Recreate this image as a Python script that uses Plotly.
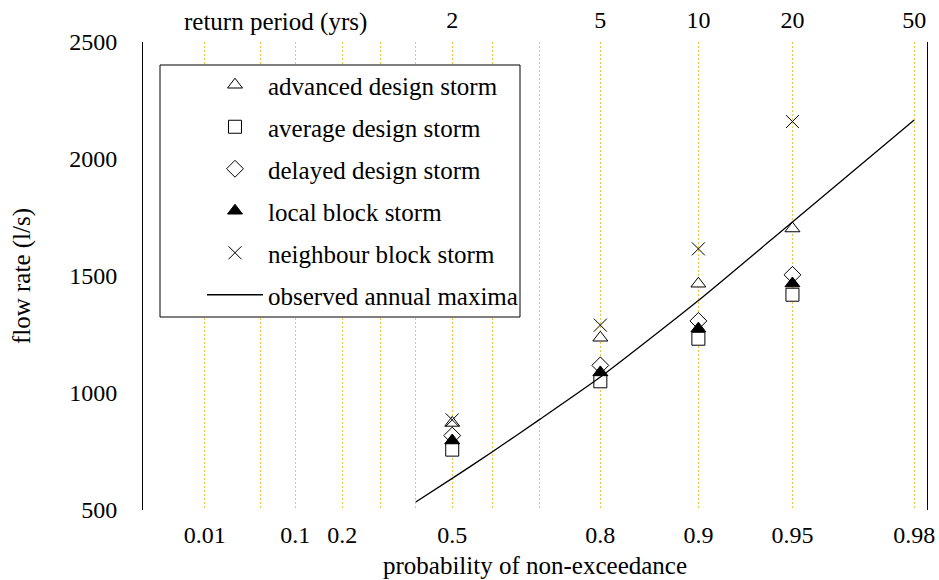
import numpy as np
import plotly.graph_objects as go

# ---- data ----
probs = [0.5, 0.8, 0.9, 0.95]
advanced = [872, 1236, 1467, 1703]
average = [758, 1050, 1232, 1420]
delayed = [818, 1118, 1308, 1505]
local_block = [797, 1088, 1275, 1468]
neighbour = [885, 1290, 1616, 2160]

obs_probs = [0.4, 0.5, 0.6, 0.7, 0.8, 0.9, 0.95, 0.98]
obs_flow = [534, 635, 748, 885, 1068, 1395, 1731, 2167]

grid_probs = [0.01, 0.05, 0.1, 0.2, 0.3, 0.4, 0.5, 0.6, 0.7, 0.8, 0.9, 0.95, 0.98]
label_probs = ["0.01", "", "0.1", "0.2", "", "", "0.5", "", "", "0.8", "0.9", "0.95", "0.98"]
return_periods = [2, 5, 10, 20, 50]
y_ticks = [500, 1000, 1500, 2000, 2500]


def gumbel(p):
    p = np.asarray(p, dtype=float)
    return -np.log(-np.log(p))


FONT = "Liberation Serif"
FS = 25
TFS = 24
GRID = "#f3c540"

fig = go.Figure()

series = [
    ("advanced design storm", advanced, "triangle-up", "white"),
    ("average design storm", average, "square", "white"),
    ("delayed design storm", delayed, "diamond", "white"),
    ("local block storm", local_block, "triangle-up", "black"),
    ("neighbour block storm", neighbour, "x-thin", "black"),
]
for i, (name, vals, sym, fill) in enumerate(series):
    fig.add_trace(go.Scatter(
        x=gumbel(probs), y=vals, mode="markers", name=name,
        legendgroup=f"g{i}",
        marker=dict(symbol=sym, size=13, color=fill,
                    line=dict(color="black", width=1)),
    ))

fig.add_trace(go.Scatter(
    x=gumbel(obs_probs), y=obs_flow, mode="lines", name="observed annual maxima",
    legendgroup="g5",
    line=dict(color="black", width=1.3, shape="spline", smoothing=0.6),
))

# dummy trace to activate the top axis
fig.add_trace(go.Scatter(x=[], y=[], xaxis="x2", showlegend=False, hoverinfo="skip"))

# plot area in px: x 143..927, y 42..510
def px_x(px):
    return (px - 143) / 784.0


def px_y(py):
    return (510 - py) / 468.0


xr = [-2.0, 4.0]
fig.update_layout(
    width=939, height=580,
    margin=dict(l=143, r=12, t=42, b=70, autoexpand=False),
    paper_bgcolor="white", plot_bgcolor="white",
    font=dict(family=FONT, size=FS, color="black"),
    showlegend=True,
    legend=dict(
        x=px_x(202), y=px_y(62), xanchor="left", yanchor="top",
        borderwidth=0, bgcolor="rgba(0,0,0,0)",
        font=dict(family=FONT, size=FS, color="black"),
        tracegroupgap=6.5, traceorder="grouped",
        itemwidth=56,
    ),
    xaxis=dict(
        range=xr, tickmode="array", automargin=False,
        tickvals=gumbel(grid_probs), ticktext=label_probs,
        tickfont=dict(size=TFS),
        showgrid=True, gridcolor=GRID, griddash="2px,2px", gridwidth=1,
        showline=False, zeroline=False, ticks="",
        ticklabelstandoff=8,
        title=dict(text="probability of non-exceedance", standoff=9,
                   font=dict(family=FONT, size=FS)),
    ),
    xaxis2=dict(
        range=xr, overlaying="x", side="top", anchor="y", automargin=False,
        tickmode="array", tickvals=gumbel([1 - 1 / t for t in return_periods]),
        ticktext=[str(t) for t in return_periods],
        tickfont=dict(size=TFS),
        showgrid=False, showline=False, zeroline=False, ticks="",
        ticklabelstandoff=8,
    ),
    yaxis=dict(
        range=[500, 2500], tickmode="array", tickvals=y_ticks, automargin=False,
        tickfont=dict(size=TFS),
        showgrid=False, zeroline=False,
        showline=True, linecolor="black", linewidth=1, mirror=True,
        ticks="", ticklabelstandoff=20,
        title=dict(text="flow rate (l/s)", standoff=31,
                   font=dict(family=FONT, size=FS)),
    ),
    shapes=[dict(
        type="rect", xref="paper", yref="paper",
        x0=px_x(160), x1=px_x(520), y0=px_y(317), y1=px_y(65),
        line=dict(color="black", width=1), fillcolor="white", layer="above",
    )],
    annotations=[dict(
        text="return period (yrs)", xref="paper", yref="paper",
        x=px_x(275), y=px_y(22), xanchor="center", yanchor="middle",
        showarrow=False, font=dict(family=FONT, size=FS),
    )],
)

fig.write_html("out.html")
